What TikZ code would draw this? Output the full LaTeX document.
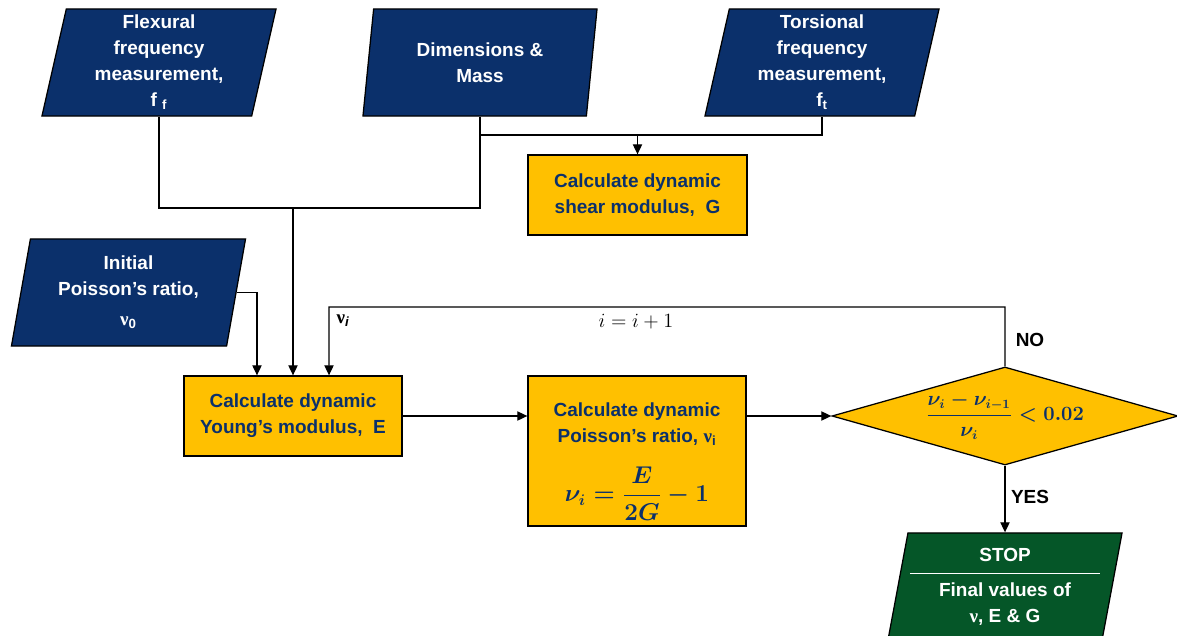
\documentclass[tikz,border=0pt]{standalone}
\usepackage{amsmath}
\usepackage{amssymb}
\usepackage{xcolor}
\usepackage{fontspec}
\setmainfont{Liberation Sans}
\newfontfamily\nufont{Liberation Serif}
\usetikzlibrary{shapes.geometric,arrows.meta}
\definecolor{inputblue}{RGB}{11, 48, 107}
\definecolor{calcyellow}{RGB}{255, 192, 0}
\definecolor{stopgreen}{RGB}{5, 86, 40}
\newcommand{\nuchar}{{\nufont ν}}

\begin{document}
\begin{tikzpicture}[x=0.025cm, y=-0.025cm,
    font=\fontsize{13.5}{18.5}\selectfont\bfseries\boldmath,
    inbox/.style={trapezium, trapezium left angle=76, trapezium right angle=104,
      trapezium stretches body, draw=black, line width=0.9pt, fill=inputblue,
      text=white, align=center, minimum width=5.85cm, minimum height=2.675cm, inner sep=1pt},
    calcbox/.style={rectangle, draw=black, line width=0.9pt, fill=calcyellow,
      text=inputblue, align=center, minimum width=5.45cm, minimum height=2cm},
    wire/.style={line width=0.9pt},
    arr/.style={wire, -{Triangle[length=2.5mm,width=2.3mm]}}]
  \useasboundingbox (0,0) rectangle (1177,636);
  % inputs
  \node[inbox] (flex) at (159,62.5) {Flexural\\frequency\\measurement,\\f~\textsubscript{f}};
  \node[inbox] (dims) at (480,62.5) {Dimensions \&\\Mass};
  \node[inbox] (tors) at (822,62.5) {Torsional\\frequency\\measurement,\\f\textsubscript{t}};
  \node[inbox] (init) at (128.5,292.5) {Initial\\Poisson’s ratio,\\[3pt]\nuchar\textsubscript{0}};
  % calculations
  \node[calcbox, minimum width=5.475cm] (shear) at (637.5,195) {Calculate dynamic\\shear modulus,~~G};
  \node[calcbox] (young) at (293,416) {Calculate dynamic\\Young’s modulus,~~E};
  \node[calcbox, minimum height=3.75cm] (poisson) at (637,451)
    {\rule{0pt}{25pt}Calculate dynamic\\Poisson’s ratio, \nuchar\textsubscript{i}\\[14pt]
     {\fontsize{16}{18}\selectfont$\nu_i = \dfrac{E}{2G} - 1$}};
  \node[diamond, aspect=3.5, draw=black, line width=0.9pt, fill=calcyellow, text=inputblue,
    minimum width=8.65cm, minimum height=2.45cm, inner sep=0pt] (check) at (1005,416)
    {$\dfrac{\nu_i - \nu_{i-1}}{\nu_i} < 0.02$};
  \node[inbox, fill=stopgreen] (stop) at (1005,586.5)
    {STOP\\[-9pt]\rule{4.75cm}{1.2pt}\\[-3pt]Final values of\\\nuchar, E \& G};
  % labels
  \node (nulbl) at (343,321) {\nuchar\textsubscript{\itshape i}};
  \node[font=\fontsize{14}{18.5}\selectfont] (inclbl) at (636,322) {$i = i + 1$};
  \node (nolbl) at (1030,340) {NO};
  \node (yeslbl) at (1030,497) {YES};
  % connectors
  \coordinate (join) at (293,208);
  \coordinate (gsplit) at (637.5,135);
  \coordinate (loop) at (329,307);
  \draw[wire] (flex.south) |- (join) -| (dims.south);
  \draw[arr] (join) -- (young.north);
  \draw[wire] (dims.south) |- (gsplit) -| (tors.south);
  \draw[arr] (gsplit) -- (shear.north);
  \draw[arr] (init.east) -| ([xshift=-0.9cm]young.north);
  \draw[arr] (check.north) |- (loop) -- ([xshift=0.9cm]young.north);
  \draw[arr] (young.east) -- (young.east -| poisson.west);
  \draw[arr] (check.west -| poisson.east) -- (check.west);
  \draw[arr] (check.south) -- (check.south |- stop.north);
\end{tikzpicture}
\end{document}
